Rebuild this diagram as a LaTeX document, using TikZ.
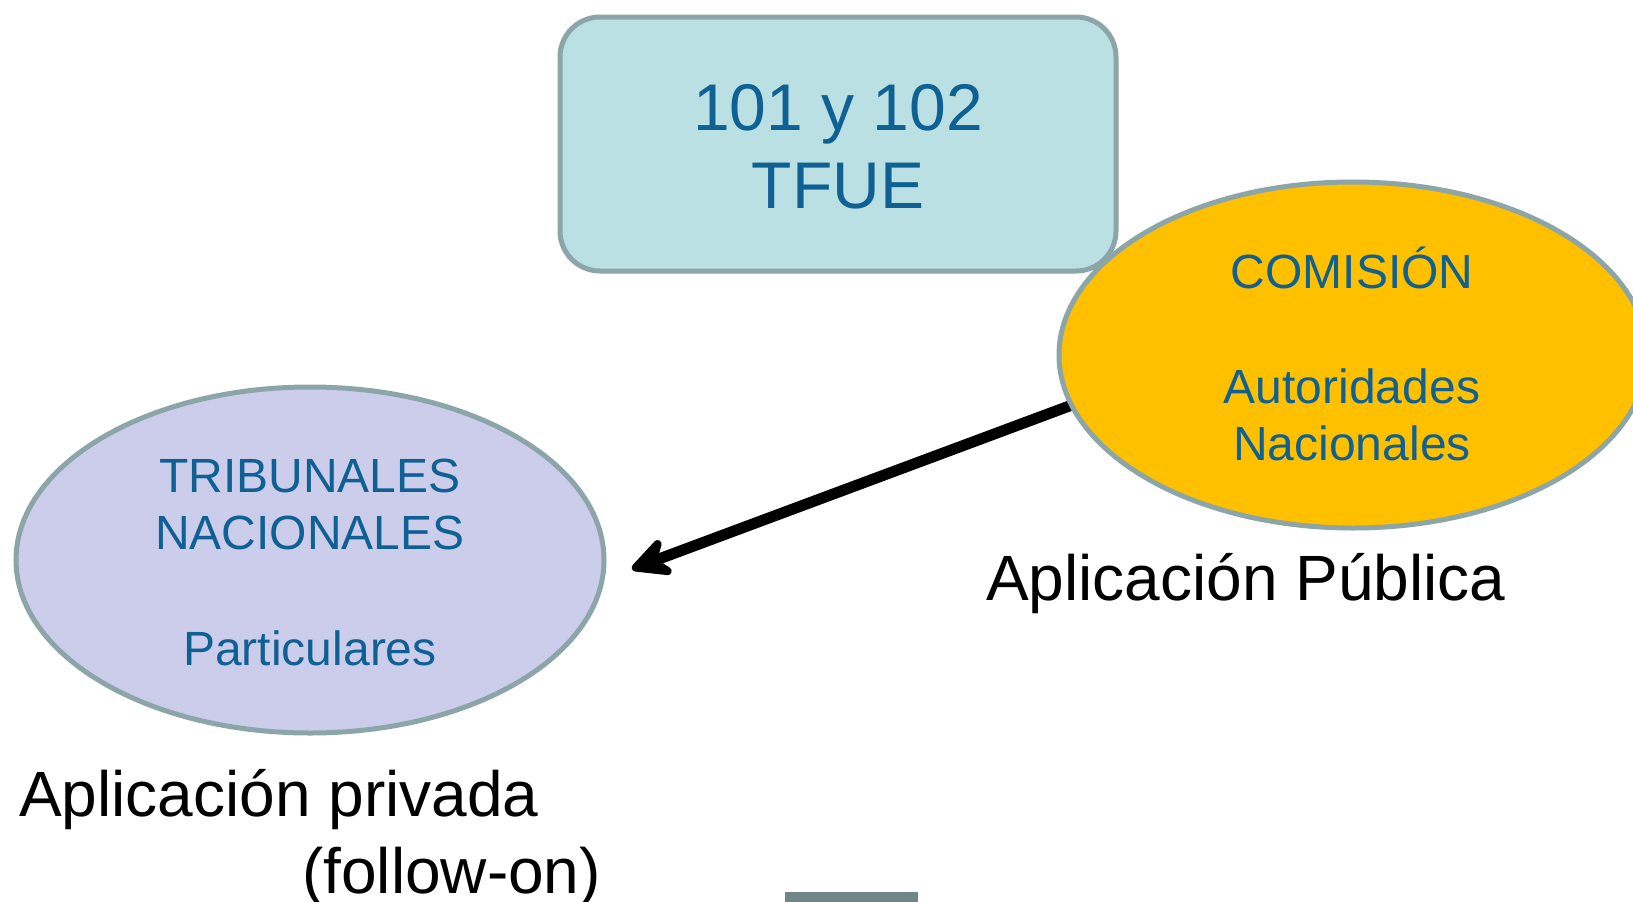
\documentclass[tikz,border=0pt]{standalone}
\usepackage{fontspec}
\setmainfont{Liberation Sans}
\usetikzlibrary{shapes.geometric,arrows.meta}
\definecolor{boxfill}{HTML}{BAE0E3}
\definecolor{edgegray}{HTML}{8CA5A8}
\definecolor{txtblue}{HTML}{0F6194}
\definecolor{lavfill}{HTML}{CCCCEB}
\definecolor{goldfill}{HTML}{FFC000}
\definecolor{footgray}{HTML}{6F8588}
\tikzset{
  oval/.style={ellipse, draw=edgegray, line width=5pt, minimum width=588pt, minimum height=346pt, inner sep=0pt},
  bluetxt/.style={text=txtblue, anchor=base, inner sep=0pt, font=\fontsize{48}{57}\selectfont},
  blacktxt/.style={text=black, anchor=base west, inner sep=0pt, font=\fontsize{64}{76}\selectfont},
  topbox/.style={draw=edgegray, fill=boxfill, line width=5pt, rounded corners=40pt, minimum width=556pt, minimum height=254pt, inner sep=0pt},
  boxtxt/.style={align=center, inner sep=0pt, text=txtblue, font=\fontsize{66}{78}\selectfont},
  flow/.style={line width=11pt, -{Stealth[length=50pt, width=50pt, inset=18pt, round]}}
}
\begin{document}
\begin{tikzpicture}[x=1pt, y=-1pt]
\useasboundingbox (0,0) rectangle (1633,902);
\clip (0,0) rectangle (1633,902);
\fill[white] (0,0) rectangle (1633,902);
% arrow (drawn first, its start hidden under the ellipse)
\coordinate (arrstart) at (1072,405);
\coordinate (arrend) at (632,569);
\draw[flow] (arrstart) -- (arrend);
% ellipses
\node[oval, fill=lavfill] (priv) at (310,560) {};
\node[oval, fill=goldfill] (pub) at (1353,355) {};
% top box
\node[topbox] (tfue) at (838,144) {};
\node[boxtxt] (tfuetxt) at (838,147) {101 y 102\\TFUE};
% texts in ellipses
\node[bluetxt] (trib) at (310,492) {TRIBUNALES};
\node[bluetxt] (nac) at (310,549) {NACIONALES};
\node[bluetxt] (part) at (310,665) {Particulares};
\node[bluetxt] (com) at (1352,288) {COMISIÓN};
\node[bluetxt] (aut) at (1352,403) {Autoridades};
\node[bluetxt] (nacs) at (1352,460) {Nacionales};
% captions
\node[blacktxt] (apub) at (986,600) {Aplicación Pública};
\node[blacktxt] (apriv) at (19,816) {Aplicación privada};
\node[blacktxt] (follow) at (302,893) {(follow-on)};
% small footer rectangle
\fill[footgray] (785,892) rectangle (918,910);
\end{tikzpicture}
\end{document}
